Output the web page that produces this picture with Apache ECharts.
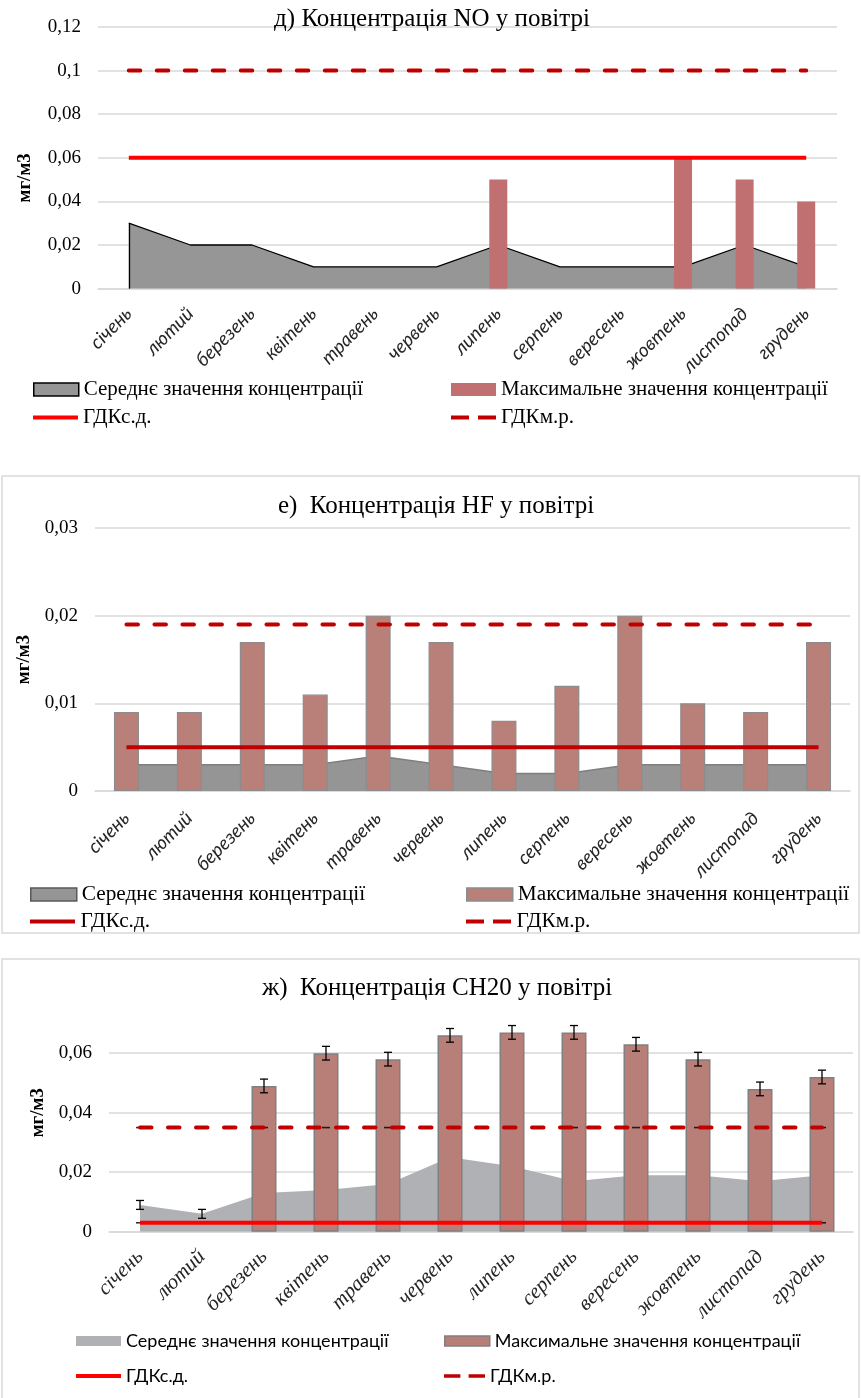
<!DOCTYPE html>
<html>
<head>
<meta charset="utf-8">
<script src="https://cdn.jsdelivr.net/npm/echarts@6/dist/echarts.min.js"></script>
<style>
  html, body { margin: 0; padding: 0; background: #fff; }
  #chart { width: 861px; height: 1398px; }
</style>
</head>
<body>
<div id="chart"></div>
<script>
// Months shared by all three panels
const months = ['січень', 'лютий', 'березень', 'квітень', 'травень', 'червень',
                'липень', 'серпень', 'вересень', 'жовтень', 'листопад', 'грудень'];

// д) NO, mg/m3
const noAvg = [0.03, 0.02, 0.02, 0.01, 0.01, 0.01, 0.02, 0.01, 0.01, 0.01, 0.02, 0.01];
const noMax = [null, null, null, null, null, null, 0.05, null, null, 0.06, 0.05, 0.04];
const noLimitDaily = 0.06;
const noLimitOnce = 0.1;

// е) HF, mg/m3
const hfAvg = [0.003, 0.003, 0.003, 0.003, 0.004, 0.003, 0.002, 0.002, 0.003, 0.003, 0.003, 0.003];
const hfMax = [0.009, 0.009, 0.017, 0.011, 0.02, 0.017, 0.008, 0.012, 0.02, 0.01, 0.009, 0.017];
const hfLimitDaily = 0.005;
const hfLimitOnce = 0.019;

// ж) CH20, mg/m3 (with error bars)
const chAvg = [0.009, 0.006, 0.013, 0.014, 0.016, 0.025, 0.022, 0.017, 0.019, 0.019, 0.017, 0.019];
const chAvgErr = [0.0015, 0.0015, null, null, null, null, null, null, null, null, null, null];
const chMax = [null, null, 0.049, 0.06, 0.058, 0.066, 0.067, 0.067, 0.063, 0.058, 0.048, 0.052];
const chMaxErr = [null, null, 0.0023, 0.0023, 0.0023, 0.0023, 0.0023, 0.0023, 0.0023, 0.0023, 0.0023, 0.0023];
const chLimitDaily = 0.003;
const chLimitOnce = 0.035;

// Value-axis ranges
const noAxis = { max: 0.12, step: 0.02 };
const hfAxis = { max: 0.03, step: 0.01 };
const chAxis = { max: 0.08, step: 0.02 };

const AVG = 'Середнє значення концентрації';
const MAX = 'Максимальне значення концентрації';
const DAILY = 'ГДКс.д.';
const ONCE = 'ГДКм.р.';

const SERIF = '"Liberation Serif", "Times New Roman", serif';
const SANS = 'Lato, "Noto Sans", sans-serif';

const fmtComma = v => String(+(+v).toFixed(4)).replace('.', ',');
const constLine = v => months.map(() => v);
const DASH = [11.5, 16.5];

function xAxisFor(gridIndex, labelFont, labelSize, margin) {
  return {
    type: 'category', gridIndex, data: months,
    axisLine: { show: true, lineStyle: { color: '#d9d9d9', width: 1.5 } },
    axisTick: { show: false },
    axisLabel: {
      interval: 0, rotate: 45, margin,
      fontFamily: labelFont, fontStyle: 'italic', fontSize: labelSize, color: '#262626'
    }
  };
}

function yAxisFor(gridIndex, ax, nameGap, namePadding, hideTop) {
  return {
    type: 'value', gridIndex, min: 0, max: ax.max, interval: ax.step,
    name: 'мг/м3', nameLocation: 'middle', nameRotate: 90, nameGap,
    nameTextStyle: { fontFamily: SERIF, fontWeight: 'bold', fontSize: 19, color: '#000', padding: namePadding },
    axisLine: { show: false }, axisTick: { show: false },
    axisLabel: { formatter: fmtComma, fontFamily: SERIF, fontSize: 19, color: '#000', margin: 17, showMaxLabel: !hideTop },
    splitLine: {
      lineStyle: {
        color: hideTop ? ['#d9d9d9', '#d9d9d9', '#d9d9d9', '#d9d9d9', 'rgba(0,0,0,0)'] : '#d9d9d9',
        width: 1.5
      }
    }
  };
}

// Vertical error bars with caps, drawn through the axis scales
function errorBars(axisIndex, values, errs) {
  const data = [];
  values.forEach((v, i) => {
    if (v != null && errs[i] != null) data.push([i, v - errs[i], v + errs[i]]);
  });
  return {
    type: 'custom', xAxisIndex: axisIndex, yAxisIndex: axisIndex, z: 6, silent: true,
    encode: { x: 0, y: [1, 2] },
    renderItem(params, api) {
      const i = api.value(0);
      const lo = api.coord([i, api.value(1)]);
      const hi = api.coord([i, api.value(2)]);
      const hw = 4;
      const st = { stroke: '#000', lineWidth: 1.3 };
      return {
        type: 'group', children: [
          { type: 'line', shape: { x1: lo[0], y1: lo[1], x2: hi[0], y2: hi[1] }, style: st },
          { type: 'line', shape: { x1: lo[0] - hw, y1: lo[1], x2: lo[0] + hw, y2: lo[1] }, style: st },
          { type: 'line', shape: { x1: hi[0] - hw, y1: hi[1], x2: hi[0] + hw, y2: hi[1] }, style: st }
        ]
      };
    },
    data
  };
}

const LINE_ICON = 'path://M0,0h45v4h-45z';
const DASH_ICON = 'path://M0,0h18v4h-18z M27,0h18v4h-18z';

function legendItem(left, top, name, icon, itemStyle, w, h, font, size) {
  return {
    left, top, padding: 0, selectedMode: false, itemWidth: w, itemHeight: h,
    textStyle: { fontFamily: font, fontSize: size, color: '#000' },
    data: [{ name, icon, itemStyle }]
  };
}

const TITLE_STYLE = { fontFamily: SERIF, fontSize: 25, fontWeight: 'normal', color: '#000' };

const option = {
  animation: false,
  backgroundColor: '#fff',
  title: [
    { text: 'д) Концентрація NO у повітрі', left: 432, top: 7, textAlign: 'center', padding: 0, textStyle: TITLE_STYLE },
    { text: 'е)  Концентрація HF у повітрі', left: 436, top: 494, textAlign: 'center', padding: 0, textStyle: TITLE_STYLE },
    { text: 'ж)  Концентрація CH20 у повітрі', left: 437, top: 976, textAlign: 'center', padding: 0, textStyle: TITLE_STYLE }
  ],
  graphic: [
    { type: 'rect', silent: true, z: -10, shape: { x: 2, y: 476, width: 857, height: 457 },
      style: { fill: 'none', stroke: '#d9d9d9', lineWidth: 1.5 } },
    { type: 'rect', silent: true, z: -10, shape: { x: 2, y: 959, width: 857, height: 460 },
      style: { fill: 'none', stroke: '#d9d9d9', lineWidth: 1.5 } }
  ],
  grid: [
    { left: 98, top: 27, width: 739, height: 261.6, outerBoundsMode: 'none' },
    { left: 95, top: 528, width: 755, height: 263, outerBoundsMode: 'none' },
    { left: 109, top: 993.7, width: 744, height: 238, outerBoundsMode: 'none' }
  ],
  xAxis: [
    xAxisFor(0, SANS, 19, 22),
    xAxisFor(1, SANS, 19, 24),
    xAxisFor(2, SERIF, 21, 22)
  ],
  yAxis: [
    yAxisFor(0, noAxis, 63, [0, 40, 0, 0], false),
    yAxisFor(1, hfAxis, 58, 0, false),
    yAxisFor(2, chAxis, 58, 0, true)
  ],
  legend: [
    legendItem(33, 379, AVG, 'rect', { color: '#969696', borderColor: '#000', borderWidth: 1.5 }, 45, 13, SERIF, 21),
    legendItem(451, 379, MAX, 'rect', { color: '#C07070', borderWidth: 0 }, 45, 13, SERIF, 21),
    legendItem(33, 407, DAILY, LINE_ICON, { color: '#FF0000', borderWidth: 0 }, 45, 4, SERIF, 21),
    legendItem(451, 407, ONCE, DASH_ICON, { color: '#C00000', borderWidth: 0 }, 45, 4, SERIF, 21),

    legendItem(30, 884, AVG, 'rect', { color: '#959595', borderColor: '#595959', borderWidth: 1.5 }, 46, 13, SERIF, 21.3),
    legendItem(466, 884, MAX, 'rect', { color: '#B98079', borderColor: '#8c8c8c', borderWidth: 1.5 }, 46, 13, SERIF, 21.3),
    legendItem(30, 911, DAILY, LINE_ICON, { color: '#C00000', borderWidth: 0 }, 46, 4, SERIF, 21.3),
    legendItem(466, 911, ONCE, DASH_ICON, { color: '#C00000', borderWidth: 0 }, 46, 4, SERIF, 21.3),

    legendItem(76, 1332, AVG, 'rect', { color: '#AFB1B4', borderWidth: 0 }, 45, 10, SANS, 18),
    legendItem(444, 1332, MAX, 'rect', { color: '#B87F78', borderColor: '#808080', borderWidth: 1.5 }, 45, 10, SANS, 18),
    legendItem(76, 1367, DAILY, LINE_ICON, { color: '#FF0000', borderWidth: 0 }, 45, 4, SANS, 18),
    legendItem(444, 1367, ONCE, DASH_ICON, { color: '#C00000', borderWidth: 0 }, 41, 4, SANS, 18)
  ],
  series: [
    // ---- д) NO ----
    { name: AVG, type: 'line', xAxisIndex: 0, yAxisIndex: 0, data: noAvg, symbol: 'none', z: 1,
      lineStyle: { color: '#000', width: 1.3 }, itemStyle: { color: '#969696' },
      areaStyle: { color: '#969696', opacity: 1 },
      // outline of the area's left edge
      markLine: {
        silent: true, symbol: 'none', label: { show: false },
        lineStyle: { color: '#000', width: 1.3, type: 'solid' },
        data: [[{ coord: [0, 0] }, { coord: [0, noAvg[0]] }]]
      } },
    { name: MAX, type: 'bar', xAxisIndex: 0, yAxisIndex: 0, data: noMax, barWidth: 18, z: 2,
      itemStyle: { color: '#C07070' } },
    { name: DAILY, type: 'line', xAxisIndex: 0, yAxisIndex: 0, data: constLine(noLimitDaily), symbol: 'none', z: 4,
      lineStyle: { color: '#FF0000', width: 4 }, itemStyle: { color: '#FF0000' } },
    { name: ONCE, type: 'line', xAxisIndex: 0, yAxisIndex: 0, data: constLine(noLimitOnce), symbol: 'none', z: 4,
      lineStyle: { color: '#C00000', width: 4, type: DASH, cap: 'round' }, itemStyle: { color: '#C00000' } },

    // ---- е) HF ----
    { name: AVG, type: 'line', xAxisIndex: 1, yAxisIndex: 1, data: hfAvg, symbol: 'none', z: 1,
      lineStyle: { color: '#7f7f7f', width: 1.5 }, itemStyle: { color: '#959595' },
      areaStyle: { color: '#959595', opacity: 1 } },
    { name: MAX, type: 'bar', xAxisIndex: 1, yAxisIndex: 1, data: hfMax, barWidth: 25, z: 2,
      itemStyle: { color: '#B98079', borderColor: '#8c8c8c', borderWidth: 1.2 } },
    { name: DAILY, type: 'line', xAxisIndex: 1, yAxisIndex: 1, data: constLine(hfLimitDaily), symbol: 'none', z: 4,
      lineStyle: { color: '#C00000', width: 4 }, itemStyle: { color: '#C00000' } },
    { name: ONCE, type: 'line', xAxisIndex: 1, yAxisIndex: 1, data: constLine(hfLimitOnce), symbol: 'none', z: 4,
      lineStyle: { color: '#C00000', width: 4, type: DASH, cap: 'round' }, itemStyle: { color: '#C00000' } },

    // ---- ж) CH20 ----
    { name: AVG, type: 'line', xAxisIndex: 2, yAxisIndex: 2, data: chAvg, symbol: 'none', z: 1,
      lineStyle: { width: 0 }, itemStyle: { color: '#AFB1B4' },
      areaStyle: { color: '#AFB1B4', opacity: 1 } },
    { name: MAX, type: 'bar', xAxisIndex: 2, yAxisIndex: 2, data: chMax, barWidth: 25, z: 2,
      itemStyle: { color: '#B87F78', borderColor: '#808080', borderWidth: 1.5 } },
    // dash markers at each month under the limit lines
    { type: 'scatter', xAxisIndex: 2, yAxisIndex: 2, data: constLine(chLimitDaily), symbol: 'rect',
      symbolSize: [8, 1.6], z: 3, silent: true, itemStyle: { color: '#000' } },
    { type: 'scatter', xAxisIndex: 2, yAxisIndex: 2, data: constLine(chLimitOnce), symbol: 'rect',
      symbolSize: [8, 1.6], z: 3, silent: true, itemStyle: { color: '#000' } },
    { name: DAILY, type: 'line', xAxisIndex: 2, yAxisIndex: 2, data: constLine(chLimitDaily), symbol: 'none', z: 4,
      lineStyle: { color: '#FF0000', width: 4 }, itemStyle: { color: '#FF0000' } },
    { name: ONCE, type: 'line', xAxisIndex: 2, yAxisIndex: 2, data: constLine(chLimitOnce), symbol: 'none', z: 4,
      lineStyle: { color: '#C00000', width: 4, type: DASH, cap: 'round' }, itemStyle: { color: '#C00000' } },
    errorBars(2, chAvg, chAvgErr),
    errorBars(2, chMax, chMaxErr)
  ]
};

const chart = echarts.init(document.getElementById('chart'), null, { renderer: 'canvas' });
chart.setOption(option);
</script>
</body>
</html>
